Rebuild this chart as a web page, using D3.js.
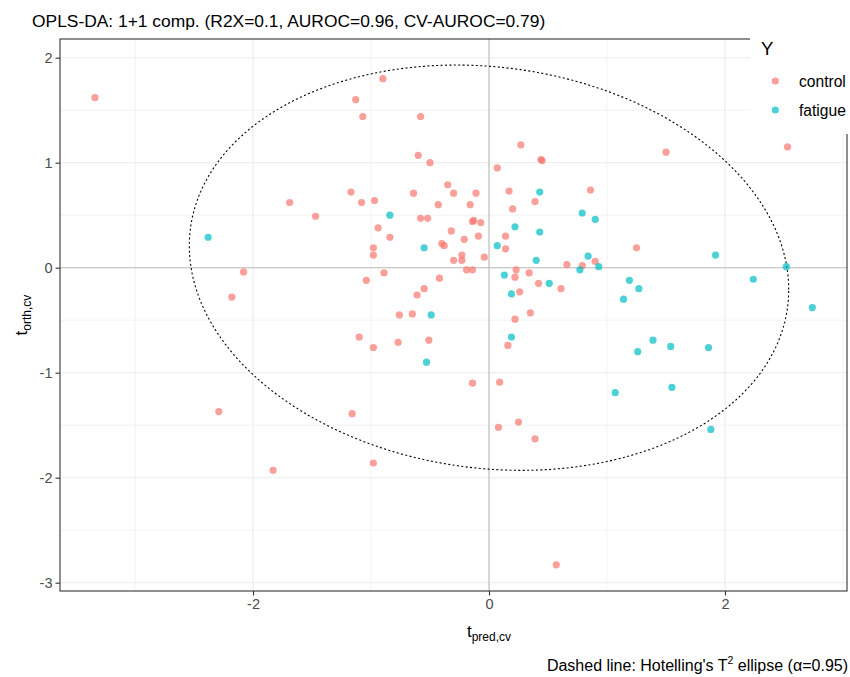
<!DOCTYPE html>
<html>
<head>
<meta charset="utf-8">
<script src="https://cdn.jsdelivr.net/npm/d3@7"></script>
<style>
  html, body { margin: 0; padding: 0; background: #fff; }
  svg { display: block; font-family: "Liberation Sans", Arial, sans-serif; }
</style>
</head>
<body>
<svg id="chart" width="850" height="677"></svg>
<script>
// OPLS-DA score plot: predictive vs orthogonal cross-validated scores
const titleText = "OPLS-DA: 1+1 comp. (R2X=0.1, AUROC=0.96, CV-AUROC=0.79)";
const groups = ["control", "fatigue"];
const groupColors = ["#F8766D", "#00BFC4"];

const controlX = [-3.34, -0.90, -1.13, -1.07, -0.58, -0.60, -0.50, -1.69, -1.47, -1.17,
  -1.08, -0.97, -0.64, -0.35, -0.30, -0.11, -0.43, -0.16, -0.58, -0.52,
  -0.14, -0.13, -0.07, -0.94, -0.32, -0.21, -0.09, -0.98, -0.98, -0.40,
  -0.38, -0.23, -0.30, -0.23, -0.04, -0.19, -0.14, -0.89, -1.04, -0.42,
  -0.55, -0.61, -0.76, -0.65, -1.10, -0.98, -0.77, -0.51, -0.14, 0.09,
  0.07, 0.27, 0.45, 0.44, 0.17, 0.86, 0.39, 0.20, 0.14, 0.14,
  1.25, 0.90, 0.66, 0.79, 0.23, 0.34, 0.22, 0.42, 0.61, 0.26,
  0.35, 0.22, 0.16, 0.08, 0.25, 0.39, 0.57, -1.16, -0.98, -1.83,
  -2.29, -2.18, -2.08, 1.50, 2.53, -0.84];
const controlY = [1.62, 1.80, 1.60, 1.44, 1.44, 1.07, 1.00, 0.62, 0.49, 0.72,
  0.62, 0.64, 0.71, 0.79, 0.71, 0.71, 0.60, 0.60, 0.47, 0.47,
  0.44, 0.45, 0.43, 0.38, 0.35, 0.27, 0.30, 0.19, 0.12, 0.23,
  0.21, 0.12, 0.07, 0.07, 0.10, -0.02, -0.02, -0.05, -0.12, -0.10,
  -0.20, -0.26, -0.45, -0.44, -0.66, -0.76, -0.71, -0.69, -1.10, -1.09,
  0.95, 1.17, 1.02, 1.03, 0.73, 0.74, 0.63, 0.56, 0.30, 0.18,
  0.19, 0.06, 0.03, 0.02, -0.02, -0.05, -0.09, -0.15, -0.20, -0.23,
  -0.43, -0.49, -0.74, -1.52, -1.47, -1.63, -2.83, -1.39, -1.86, -1.93,
  -1.37, -0.28, -0.04, 1.10, 1.15, 0.29];

const fatigueX = [-2.38, -0.84, -0.55, -0.49, -0.53, 0.07, 0.13, 0.19, 0.22, 0.19,
  0.43, 0.43, 0.40, 0.51, 0.79, 0.90, 0.84, 0.77, 0.93, 1.19,
  1.14, 1.27, 1.26, 1.07, 1.92, 2.52, 2.24, 2.74, 1.39, 1.54,
  1.86, 1.55, 1.88];
const fatigueY = [0.29, 0.50, 0.19, -0.45, -0.90, 0.21, -0.07, -0.25, 0.39, -0.66,
  0.72, 0.34, 0.07, -0.15, 0.52, 0.46, 0.11, -0.02, 0.01, -0.12,
  -0.30, -0.20, -0.80, -1.19, 0.12, 0.01, -0.11, -0.38, -0.69, -0.75,
  -0.76, -1.14, -1.54];

// Hotelling's T2 ellipse (alpha = 0.95): scaled score covariance
const ellipseSdX = 2.54;
const ellipseSdY = 1.93;
const ellipseCov = -0.53;

const xTicks = [-2, 0, 2];
const xMinorTicks = [-3, -1, 1, 3];
const yTicks = [-3, -2, -1, 0, 1, 2];
const yMinorTicks = [-2.5, -1.5, -0.5, 0.5, 1.5];
const xDomain = [-3.636, 3.034];
const yDomain = [-3.079, 2.178];

const svg = d3.select("#chart");
const panel = { left: 60, top: 39, right: 847, bottom: 591 };

const x = d3.scaleLinear().domain(xDomain).range([panel.left, panel.right]);
const y = d3.scaleLinear().domain(yDomain).range([panel.bottom, panel.top]);

// title
svg.append("text")
  .attr("x", 32).attr("y", 26.5)
  .attr("font-size", 17.4).attr("fill", "#000")
  .text(titleText);

const g = svg.append("g");

// panel background
g.append("rect")
  .attr("x", panel.left).attr("y", panel.top)
  .attr("width", panel.right - panel.left).attr("height", panel.bottom - panel.top)
  .attr("fill", "#fff");

// grid lines
g.selectAll(".xminor").data(xMinorTicks).join("line")
  .attr("x1", d => x(d)).attr("x2", d => x(d))
  .attr("y1", panel.top).attr("y2", panel.bottom)
  .attr("stroke", "#ebebeb").attr("stroke-width", 0.6);
g.selectAll(".yminor").data(yMinorTicks).join("line")
  .attr("y1", d => y(d)).attr("y2", d => y(d))
  .attr("x1", panel.left).attr("x2", panel.right)
  .attr("stroke", "#ebebeb").attr("stroke-width", 0.6);
g.selectAll(".xmajor").data(xTicks).join("line")
  .attr("x1", d => x(d)).attr("x2", d => x(d))
  .attr("y1", panel.top).attr("y2", panel.bottom)
  .attr("stroke", "#ebebeb").attr("stroke-width", 1.1);
g.selectAll(".ymajor").data(yTicks).join("line")
  .attr("y1", d => y(d)).attr("y2", d => y(d))
  .attr("x1", panel.left).attr("x2", panel.right)
  .attr("stroke", "#ebebeb").attr("stroke-width", 1.1);

// reference lines through the origin
g.append("line")
  .attr("x1", x(0)).attr("x2", x(0)).attr("y1", panel.top).attr("y2", panel.bottom)
  .attr("stroke", "#bebebe").attr("stroke-width", 1.1);
g.append("line")
  .attr("y1", y(0)).attr("y2", y(0)).attr("x1", panel.left).attr("x2", panel.right)
  .attr("stroke", "#bebebe").attr("stroke-width", 1.1);

// ellipse from the Cholesky factor of the covariance
const l11 = ellipseSdX;
const l21 = ellipseCov / ellipseSdX;
const l22 = Math.sqrt(ellipseSdY * ellipseSdY - l21 * l21);
const ellipsePts = d3.range(0, 361).map(a => {
  const t = a * Math.PI / 180;
  return [l11 * Math.cos(t), l21 * Math.cos(t) + l22 * Math.sin(t)];
});
g.append("path")
  .datum(ellipsePts)
  .attr("d", d3.line().x(d => x(d[0])).y(d => y(d[1])))
  .attr("fill", "none").attr("stroke", "#000")
  .attr("stroke-width", 1.1).attr("stroke-dasharray", "2,2.4");

// score points
const series = [
  { name: groups[0], color: groupColors[0], xs: controlX, ys: controlY },
  { name: groups[1], color: groupColors[1], xs: fatigueX, ys: fatigueY }
];
series.forEach(s => {
  g.append("g").selectAll("circle")
    .data(s.xs.map((v, i) => [v, s.ys[i]]))
    .join("circle")
    .attr("cx", d => x(d[0])).attr("cy", d => y(d[1]))
    .attr("r", 3.6)
    .attr("fill", s.color).attr("fill-opacity", 0.7);
});

// axes
const xAxis = svg.append("g")
  .attr("transform", `translate(0,${panel.bottom})`)
  .call(d3.axisBottom(x).tickValues(xTicks).tickSize(4.5).tickPadding(3).tickFormat(d3.format("d")));
const yAxis = svg.append("g")
  .attr("transform", `translate(${panel.left},0)`)
  .call(d3.axisLeft(y).tickValues(yTicks).tickSize(4.5).tickPadding(3).tickFormat(d3.format("d")));
[xAxis, yAxis].forEach(a => {
  a.select(".domain").remove();
  a.selectAll(".tick line").attr("stroke", "#333").attr("stroke-width", 1.1);
  a.selectAll(".tick text")
    .attr("fill", "#4d4d4d").attr("font-size", 14.5)
    .attr("font-family", "Liberation Sans, Arial, sans-serif")
    .text(d => d < 0 ? "-" + Math.abs(d) : d);
});

// panel border
svg.append("rect")
  .attr("x", panel.left).attr("y", panel.top)
  .attr("width", panel.right - panel.left).attr("height", panel.bottom - panel.top)
  .attr("fill", "none").attr("stroke", "#333").attr("stroke-width", 1.1);

// axis titles with subscripts
const xTitle = svg.append("text")
  .attr("x", x(0)).attr("y", 637)
  .attr("text-anchor", "middle").attr("font-size", 17).attr("fill", "#000");
xTitle.append("tspan").text("t");
xTitle.append("tspan").attr("font-size", 12).attr("dy", 4).text("pred,cv");

const yTitle = svg.append("text")
  .attr("transform", `translate(27,${(panel.top + panel.bottom) / 2}) rotate(-90)`)
  .attr("text-anchor", "middle").attr("font-size", 17).attr("fill", "#000");
yTitle.append("tspan").text("t");
yTitle.append("tspan").attr("font-size", 12).attr("dy", 4).text("orth,cv");

// legend
const legend = svg.append("g");
legend.append("rect")
  .attr("x", 750).attr("y", 30).attr("width", 100).attr("height", 104)
  .attr("fill", "#fff");
legend.append("text")
  .attr("x", 761).attr("y", 54.5)
  .attr("font-size", 18.5).attr("fill", "#000").text("Y");
series.forEach((s, i) => {
  const cy = 81 + i * 29;
  legend.append("circle")
    .attr("cx", 775.3).attr("cy", cy).attr("r", 3.6)
    .attr("fill", s.color).attr("fill-opacity", 0.7);
  legend.append("text")
    .attr("x", 799).attr("y", cy + 6)
    .attr("font-size", 15.6).attr("fill", "#000").text(s.name);
});

// caption
const caption = svg.append("text")
  .attr("x", 848).attr("y", 671)
  .attr("text-anchor", "end").attr("font-size", 16).attr("fill", "#000");
caption.append("tspan").text("Dashed line: Hotelling's T");
caption.append("tspan").attr("font-size", 10.5).attr("dy", -7).text("2");
caption.append("tspan").attr("dy", 7).text(" ellipse (\u03b1=0.95)");
</script>
</body>
</html>
